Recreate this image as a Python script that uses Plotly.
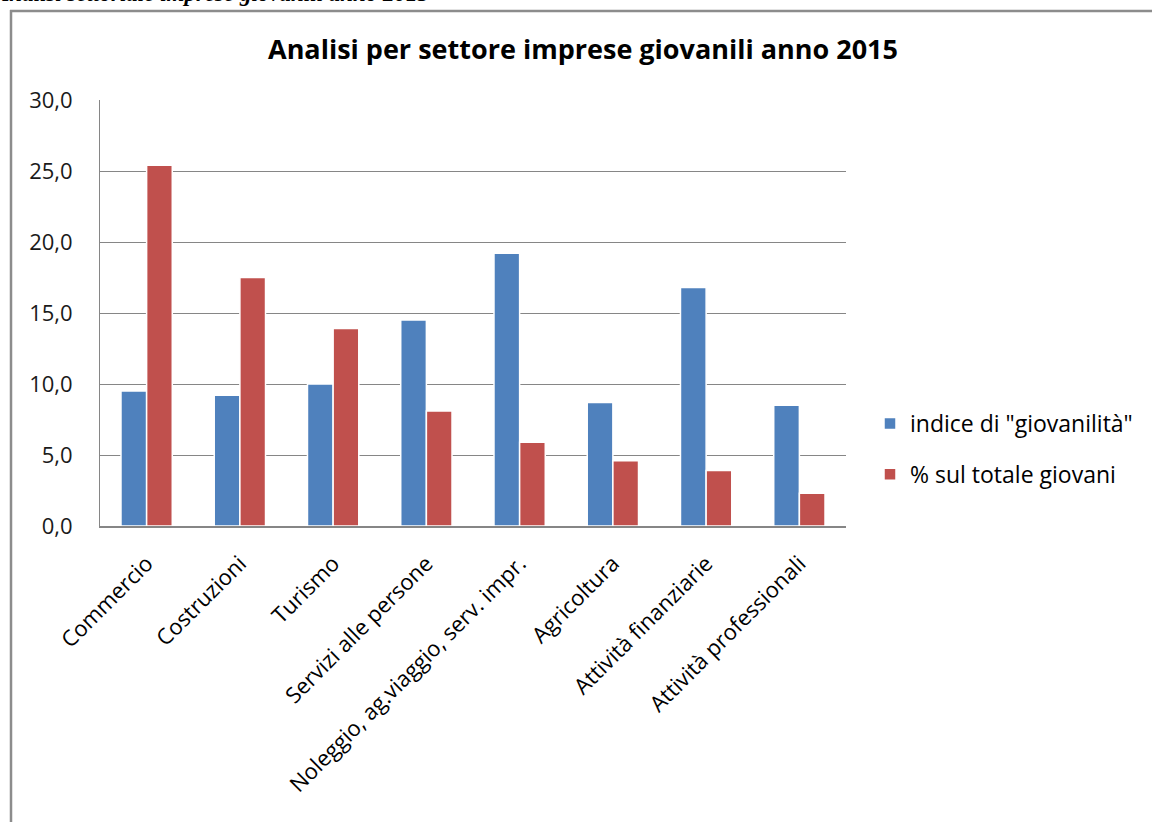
import plotly.graph_objects as go

categories = ["Commercio", "Costruzioni", "Turismo", "Servizi alle persone",
              "Noleggio, ag.viaggio, serv. impr.", "Agricoltura",
              "Attività finanziarie", "Attività professionali"]
indice_giovanilita = [9.5, 9.2, 10.0, 14.5, 19.2, 8.7, 16.8, 8.5]
perc_totale_giovani = [25.4, 17.5, 13.9, 8.1, 5.9, 4.6, 3.9, 2.3]
series_names = ['indice di "giovanilità"', "% sul totale giovani"]
y_ticks = [0, 5, 10, 15, 20, 25, 30]
y_ticklabels = ["0,0", "5,0", "10,0", "15,0", "20,0", "25,0", "30,0"]
chart_title = "Analisi per settore imprese giovanili anno 2015"
header_text = "Analisi settoriale imprese giovanili anno 2015"

W, H = 1152, 822
L, R, T, B = 100, 846, 100, 526  # plot area in pixels
pw, ph = R - L, B - T

def px(x):
    return (x - L) / pw

def py(y):
    return (B - y) / ph

FONT = "Open Sans"

fig = go.Figure()
fig.add_trace(go.Bar(x=categories, y=indice_giovanilita, name=series_names[0],
                     marker=dict(color="#4F81BD", line=dict(color="white", width=1.5)),
                     legendgroup="a"))
fig.add_trace(go.Bar(x=categories, y=perc_totale_giovani, name=series_names[1],
                     marker=dict(color="#C0504D", line=dict(color="white", width=1.5)),
                     legendgroup="b"))

fig.update_layout(
    width=W, height=H,
    margin=dict(l=L, r=W - R, t=T, b=H - B, pad=0),
    paper_bgcolor="white", plot_bgcolor="white",
    barmode="group", bargap=0.45, bargroupgap=0.0,
    font=dict(family=FONT, size=20, color="#000000"),
    showlegend=True,
    legend=dict(x=px(870), y=py(449), xanchor="left", yanchor="middle",
                traceorder="grouped", tracegroupgap=18,
                font=dict(family=FONT, size=23, color="#000000"),
                bgcolor="rgba(0,0,0,0)"),
    annotations=[
        dict(text="<b>" + chart_title + "</b>", xref="paper", yref="paper",
             x=px(583), y=py(48), xanchor="center", yanchor="middle",
             showarrow=False, font=dict(family=FONT, size=27, color="#000000")),
        dict(text="<b><i>" + header_text + "</i></b>", xref="paper", yref="paper",
             x=px(-10), y=py(-7), xanchor="left", yanchor="middle",
             showarrow=False, font=dict(family="Liberation Serif", size=23, color="#000000")),
    ],
    shapes=[
        dict(type="line", xref="paper", yref="paper", x0=px(11), x1=px(11),
             y0=py(10), y1=py(H + 20), line=dict(color="#8c8c8c", width=2.5)),
        dict(type="line", xref="paper", yref="paper", x0=px(10), x1=px(W + 20),
             y0=py(11), y1=py(11), line=dict(color="#8c8c8c", width=2.5)),
    ],
)

fig.update_yaxes(range=[0, 30], tickvals=y_ticks, ticktext=y_ticklabels,
                 showgrid=True, gridcolor="#868686", gridwidth=1,
                 showline=True, linecolor="#868686", linewidth=1,
                 zeroline=False, ticks="", ticklabelstandoff=22,
                 tickfont=dict(family=FONT, size=22, color="#1a1a1a"))
fig.update_xaxes(tickangle=-45, showline=True, linecolor="#868686", linewidth=2,
                 showgrid=False, ticks="", ticklabelstandoff=14,
                 tickfont=dict(family=FONT, size=22, color="#000000"))

fig.write_html("out.html", config={"displayModeBar": False},
               post_script="document.body.style.margin='0';")
